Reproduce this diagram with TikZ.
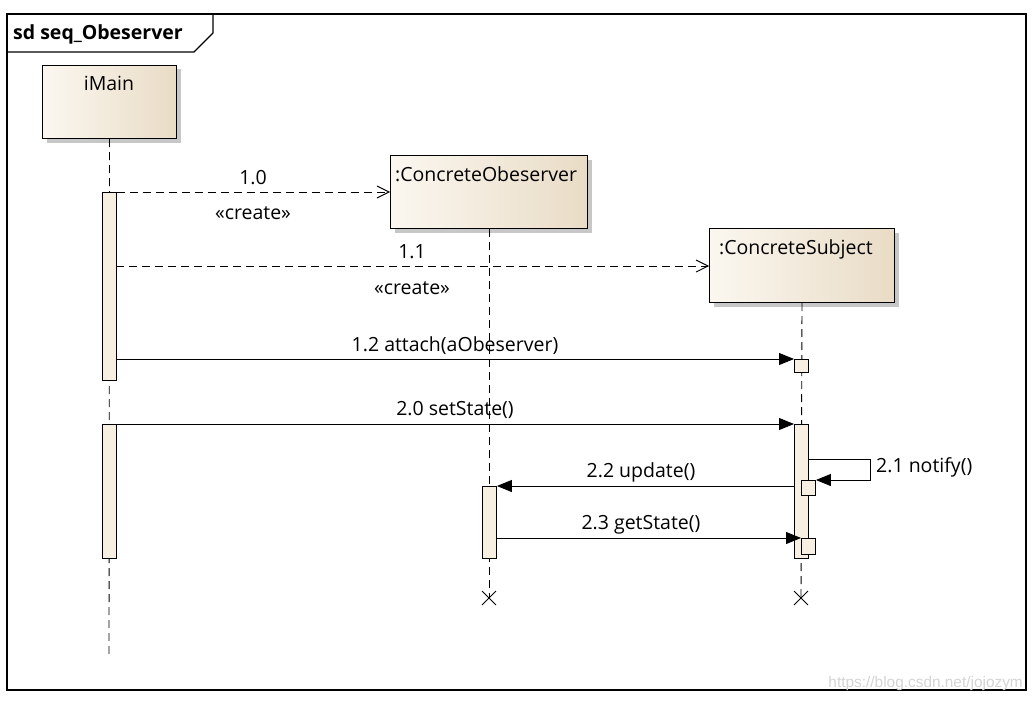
\documentclass[tikz,border=0pt]{standalone}
\usepackage{fontspec}
\setmainfont{Open Sans}
\newfontfamily\wmfont{Liberation Sans}
\usetikzlibrary{arrows.meta,shapes.misc,shadows}
\definecolor{boxl}{HTML}{FBF7F0}
\definecolor{boxr}{HTML}{E9DCC6}
\definecolor{actfill}{HTML}{F8EFE3}
\definecolor{wmgray}{HTML}{D4D4D4}
\begin{document}
\begin{tikzpicture}[x=1pt,y=-1pt,
  every node/.style={font=\fontsize{19.5}{23}\selectfont},
  head/.style={draw=black, line width=1pt, left color=boxl, right color=boxr, anchor=north west, inner sep=0pt,
    general shadow={fill=black!22, shadow xshift=4pt, shadow yshift=-4pt}},
  headtxt/.style={inner sep=0pt},
  act/.style={draw=black, line width=0.9pt, fill=actfill, anchor=north west, inner sep=0pt, minimum width=14},
  life/.style={draw=black, line width=0.9pt, dash pattern=on 8pt off 5pt},
  create/.style={draw=black, line width=0.9pt, dash pattern=on 8pt off 5pt, -{Straight Barb[length=12pt,width=12pt,line width=0.9pt]}},
  sync/.style={draw=black, line width=0.9pt, -{Triangle[length=15pt,width=12pt]}},
  lbl/.style={inner sep=0pt, anchor=base},
  xmark/.style={draw=black, cross out, line width=0.9pt, minimum size=13, inner sep=0pt}
]
\useasboundingbox (0,0) rectangle (1036,701);
\fill[white] (0,0) rectangle (1036,701);
% frame
\draw[line width=1.3pt] (7,14) rectangle (1026,690);
\draw[line width=1.3pt] (7,52) -- (194,52) -- (213,33) -- (213,14);
\node[inner sep=0pt, anchor=base west, font=\fontsize{19.5}{23}\selectfont\bfseries] (title) at (13,40) {sd seq\_Obeserver};

% lifeline heads
\node[head, minimum width=134, minimum height=73] (main) at (42,65) {};
\node[headtxt, anchor=base] (maintxt) at (109,90) {iMain};
\node[head, minimum width=197, minimum height=73] (obs) at (390,155) {};
\node[headtxt, anchor=base west] (obstxt) at (395,181) {:ConcreteObeserver};
\node[head, minimum width=185, minimum height=74] (subj) at (709,228) {};
\node[headtxt, anchor=base west] (subjtxt) at (719,254) {:ConcreteSubject};

% X marks
\node[xmark] (xobs) at (489,598) {};
\node[xmark] (xsubj) at (801,598) {};
\coordinate (mainend) at (109,656);

% lifelines
\draw[life] (main.south) -- (mainend);
\draw[life] (obs.south) -- (xobs.center);
\draw[life] (subj.south) -- (xsubj.center);

% activations
\node[act, minimum height=188] (a1) at (102,192) {};
\node[act, minimum height=134] (a2) at (102,424) {};
\node[act, minimum height=13] (s1) at (794,359) {};
\node[act, minimum height=134] (s2) at (794,424) {};
\node[act, minimum height=15] (s3) at (801,480) {};
\node[act, minimum height=16] (s4) at (801,538) {};
\node[act, minimum height=72] (o1) at (482,486) {};

% messages
\draw[create] (a1.north east) -- (obs.west |- a1.north east);
\node[lbl] (l10) at (253,184) {1.0};
\node[lbl] (c10) at (253,219) {«create»};

\coordinate (m11) at (116,266);
\draw[create] (m11) -- (subj.west |- m11);
\node[lbl] (l11) at (412,258) {1.1};
\node[lbl] (c11) at (412,294) {«create»};

\draw[sync] (a1.east |- s1.north west) -- (s1.north west);
\node[lbl] (l12) at (455,351) {1.2 attach(aObeserver)};

\draw[sync] (a2.north east) -- (s2.north west);
\node[lbl] (l20) at (455,415) {2.0 setState()};

\coordinate (n1) at (808,459);
\coordinate (n2) at (870,459);
\coordinate (n3) at (870,480);
\draw[sync] (n1) -- (n2) -- (n3) -- (s3.north east);
\node[lbl, anchor=base west] (l21) at (876,472) {2.1 notify()};

\draw[sync] (s2.west |- o1.north east) -- (o1.north east);
\node[lbl] (l22) at (641,477) {2.2 update()};

\coordinate (m23) at (496,538);
\draw[sync] (m23) -- (s4.north west);
\node[lbl] (l23) at (641,529) {2.3 getState()};

% watermark
\node[inner sep=0pt, anchor=base east, text=wmgray, font=\wmfont\fontsize{15.4}{18}\selectfont] (wm) at (1023,687) {https://blog.csdn.net/jojozym};
\end{tikzpicture}
\end{document}
